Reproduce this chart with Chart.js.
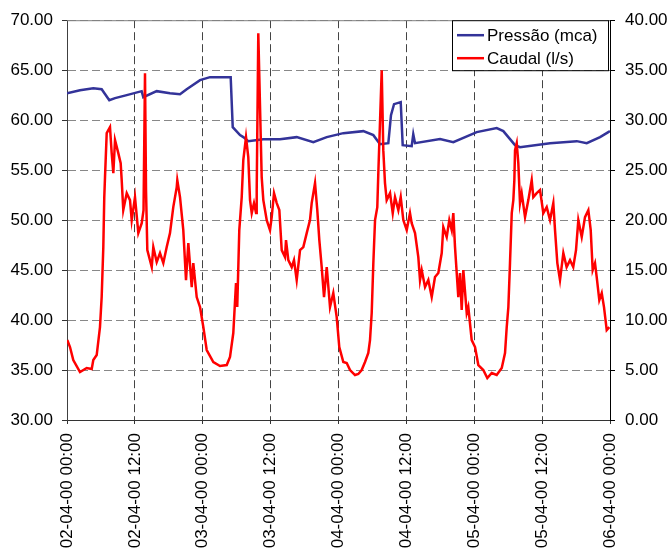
<!DOCTYPE html>
<html>
<head>
<meta charset="utf-8">
<script src="https://cdn.jsdelivr.net/npm/chart.js@4"></script>
<style>
  html, body { margin: 0; padding: 0; background: #fff; }
  #wrap { width: 672px; height: 553px; position: relative; }
</style>
</head>
<body>
<div id="wrap"><canvas id="pressureChart"></canvas></div>
<script>
// x axis = hours since 02-04-00 00:00
const xTickLabels = ["02-04-00 00:00", "02-04-00 12:00", "03-04-00 00:00", "03-04-00 12:00",
  "04-04-00 00:00", "04-04-00 12:00", "05-04-00 00:00", "05-04-00 12:00", "06-04-00 00:00"];

// Pressão (mca), left axis
const pressureHours = [0, 2.3, 4.65, 6.13, 7.48, 8.5, 10.56, 13.2, 13.49, 15.86, 18.21, 19.98, 21.16, 23.52,
  25.28, 27.63, 28.94, 29.3, 30.59, 31.17, 32.05, 34.7, 37.66, 40.61, 43.55, 45.92, 48.85, 52.39,
  54.16, 55.34, 56.81, 57.28, 57.82, 59.0, 59.35, 60.94, 61.22, 61.53, 65.95, 68.3, 72.44, 75.97,
  77.14, 79.21, 80.09, 85.4, 90.12, 91.89, 94.24, 95.7, 96];
const pressureValues = [62.7, 63.0, 63.2, 63.1, 62.0, 62.2, 62.5, 62.9, 62.3, 62.9, 62.7, 62.6, 63.1, 64.0,
  64.3, 64.3, 64.3, 59.3, 58.5, 58.3, 57.9, 58.1, 58.1, 58.3, 57.8, 58.3, 58.7, 58.9,
  58.5, 57.6, 57.7, 60.5, 61.6, 61.8, 57.5, 57.4, 58.6, 57.7, 58.1, 57.8, 58.8, 59.2,
  58.9, 57.5, 57.3, 57.7, 57.9, 57.7, 58.3, 58.8, 58.9];

// Caudal (l/s), right axis
const flowHours = [0.05, 0.53, 1.11, 2.3, 3.48, 4.37, 4.65, 5.25, 5.83, 6.13, 6.42, 6.59, 6.72, 7.02,
  7.6, 7.9, 8.19, 8.49, 9.07, 9.49, 9.67, 9.95, 10.56, 11.14, 11.44, 12.02, 12.61, 13.21, 13.53,
  13.79, 13.97, 14.2, 14.98, 15.26, 15.86, 16.44, 17.03, 17.63, 18.21, 18.79, 19.4, 19.5, 19.98,
  20.56, 21.04, 21.45, 22.05, 22.33, 22.93, 23.52, 24.1, 24.7, 25.87, 27.05, 28.24, 28.82, 29.4,
  29.88, 30.1, 30.46, 30.89, 31.17, 31.65, 32.05, 32.36, 32.66, 33.06, 33.42, 33.54, 33.82, 34.42,
  34.71, 35.31, 35.89, 36.19, 36.6, 37.08, 37.54, 37.96, 38.54, 38.72, 39.13, 39.73, 40.13, 40.61,
  41.2, 41.78, 42.38, 42.96, 43.26, 43.85, 44.25, 44.61, 45.03, 45.44, 45.92, 46.5, 47.08, 47.68,
  48.14, 48.85, 49.45, 50.04, 50.92, 51.5, 52.1, 52.69, 53.27, 53.57, 53.87, 54.16, 54.46, 54.86,
  55.04, 55.64, 55.92, 56.22, 56.52, 57.11, 57.59, 57.99, 58.58, 59.0, 59.46, 60.06, 60.64, 60.94,
  61.53, 62.11, 62.41, 62.71, 63.3, 63.88, 64.48, 65.06, 65.65, 66.25, 66.53, 67.13, 67.59, 68.02,
  68.3, 68.6, 69.18, 69.48, 69.78, 70.07, 70.67, 70.95, 71.55, 72.14, 72.72, 73.6, 74.31, 75.09,
  75.97, 76.86, 77.44, 77.74, 78.03, 78.32, 78.63, 78.91, 79.09, 79.21, 79.51, 79.79, 80.09, 80.39,
  80.98, 81.56, 82.16, 82.44, 83.04, 83.63, 84.21, 84.81, 85.4, 85.98, 86.28, 86.69, 87.16, 87.75,
  88.33, 88.93, 89.5, 89.99, 90.4, 91.0, 91.58, 92.17, 92.59, 92.94, 93.35, 93.65, 94.11, 94.54,
  94.94, 95.42, 95.88];
const flowValues = [8.0, 7.3, 6.0, 4.8, 5.2, 5.1, 6.0, 6.5, 9.3, 12.3, 17.3, 22.3, 24.3, 28.7,
  29.3, 26.7, 24.7, 28.0, 26.7, 25.7, 24.0, 21.0, 22.7, 22.0, 20.0, 22.3, 18.7, 19.7, 21.0,
  34.7, 23.0, 17.0, 15.3, 17.3, 15.8, 16.7, 15.7, 17.3, 18.7, 21.3, 23.3, 24.0, 22.3,
  19.0, 14.0, 17.7, 13.3, 15.7, 12.3, 11.3, 9.3, 7.0, 5.8, 5.4, 5.5, 6.3, 8.7,
  13.7, 11.3, 19.0, 22.3, 26.0, 28.3, 26.3, 22.0, 20.7, 21.7, 20.7, 23.0, 38.7, 24.3,
  22.0, 20.0, 19.0, 20.3, 22.7, 21.7, 21.0, 17.0, 16.3, 18.0, 16.0, 15.3, 16.0, 14.0,
  17.0, 17.3, 18.7, 20.0, 21.7, 23.7, 21.0, 18.0, 15.3, 12.3, 15.3, 11.3, 12.7, 10.3,
  7.3, 5.8, 5.7, 5.0, 4.5, 4.6, 5.0, 5.8, 6.7, 8.0, 10.7, 15.7, 20.0, 21.3,
  24.7, 35.0, 27.0, 23.7, 22.0, 22.7, 20.7, 22.3, 21.0, 22.3, 20.0, 19.0, 20.7, 19.7,
  18.7, 16.3, 14.0, 15.0, 13.3, 14.0, 12.3, 14.3, 14.7, 16.7, 19.3, 18.3, 20.0, 19.0,
  20.7, 17.3, 12.3, 14.7, 11.0, 15.0, 10.7, 11.3, 8.0, 7.3, 5.5, 5.0, 4.2, 4.7,
  4.5, 5.2, 6.7, 9.3, 11.3, 15.7, 20.7, 22.0, 24.0, 27.0, 27.7, 25.7, 21.7, 22.7,
  20.3, 22.0, 24.0, 22.3, 22.7, 23.0, 20.7, 21.3, 20.0, 21.7, 19.0, 15.7, 14.0, 16.7,
  15.3, 16.0, 15.3, 17.0, 20.0, 18.3, 20.3, 21.0, 19.0, 15.0, 15.7, 14.3, 12.0, 12.7,
  11.3, 9.0, 9.3];

const FONT = "'Liberation Sans', Arial, sans-serif";
Chart.defaults.font.family = FONT;
Chart.defaults.font.size = 17;
Chart.defaults.color = "#000";

// solid frame on top edge (the rest comes from the axes)
const framePlugin = {
  id: "frame",
  beforeDatasetsDraw(chart) {
    const { ctx, chartArea: a } = chart;
    ctx.save();
    ctx.strokeStyle = "#808080";
    ctx.lineWidth = 1;
    ctx.beginPath();
    ctx.moveTo(a.left, a.top + 0.5);
    ctx.lineTo(a.right, a.top + 0.5);
    ctx.stroke();
    ctx.restore();
  }
};

// legend box inside the plot, top right
const boxLegend = {
  id: "boxLegend",
  afterDraw(chart) {
    const { ctx, chartArea: a } = chart;
    const w = 156, h = 50;
    const x = a.right - 2 - w, y = a.top;
    ctx.save();
    ctx.fillStyle = "#fff";
    ctx.fillRect(x, y, w, h);
    ctx.strokeStyle = "#000";
    ctx.lineWidth = 1;
    ctx.strokeRect(x + 0.5, y + 0.5, w, h);
    ctx.font = "17px " + FONT;
    ctx.textBaseline = "middle";
    chart.data.datasets.forEach((ds, i) => {
      const cy = y + 15 + i * 23;
      ctx.strokeStyle = ds.borderColor;
      ctx.lineWidth = 2.5;
      ctx.beginPath();
      ctx.moveTo(x + 5, cy);
      ctx.lineTo(x + 32, cy);
      ctx.stroke();
      ctx.fillStyle = "#000";
      ctx.fillText(ds.label, x + 35, cy + 1);
    });
    ctx.restore();
  }
};

const ctx = document.getElementById("pressureChart");

new Chart(ctx, {
  type: "line",
  data: {
    datasets: [
      {
        label: "Pressão (mca)",
        data: pressureHours.map((h, i) => ({ x: h, y: pressureValues[i] })),
        borderColor: "#333399",
        borderWidth: 2.5,
        pointRadius: 0,
        yAxisID: "y",
        order: 1
      },
      {
        label: "Caudal (l/s)",
        data: flowHours.map((h, i) => ({ x: h, y: flowValues[i] })),
        borderColor: "#ff0000",
        borderWidth: 2.5,
        pointRadius: 0,
        yAxisID: "y1",
        order: 0
      }
    ]
  },
  options: {
    responsive: true,
    maintainAspectRatio: false,
    animation: false,
    layout: { padding: { top: 20, left: 0, right: 0, bottom: 0 } },
    plugins: {
      legend: { display: false },
      tooltip: { enabled: false }
    },
    scales: {
      x: {
        type: "linear",
        min: 0,
        max: 96,
        afterFit: s => { s.height = 133; },
        afterBuildTicks: s => { s.ticks = xTickLabels.map((_, i) => ({ value: i * 12 })); },
        ticks: {
          autoSkip: false,
          minRotation: 90,
          maxRotation: 90,
          padding: 9,
          callback: (v, i) => xTickLabels[i]
        },
        grid: { color: "#444", tickColor: "#333", tickLength: 4 },
        border: { color: "#333", dash: [8, 4] }
      },
      y: {
        position: "left",
        min: 30,
        max: 70,
        afterFit: s => { s.width = 67; },
        ticks: { stepSize: 5, padding: 9, callback: v => v.toFixed(2) },
        grid: { color: "#888", tickColor: "#333", tickLength: 5 },
        border: { color: "#404040", dash: [8, 4] }
      },
      y1: {
        position: "right",
        min: 0,
        max: 40,
        afterFit: s => { s.width = 62; },
        ticks: { stepSize: 5, padding: 10, callback: v => v.toFixed(2) },
        grid: { drawOnChartArea: false, color: "#000", tickLength: 5 },
        border: { color: "#000" }
      }
    }
  },
  plugins: [framePlugin, boxLegend]
});
</script>
</body>
</html>
